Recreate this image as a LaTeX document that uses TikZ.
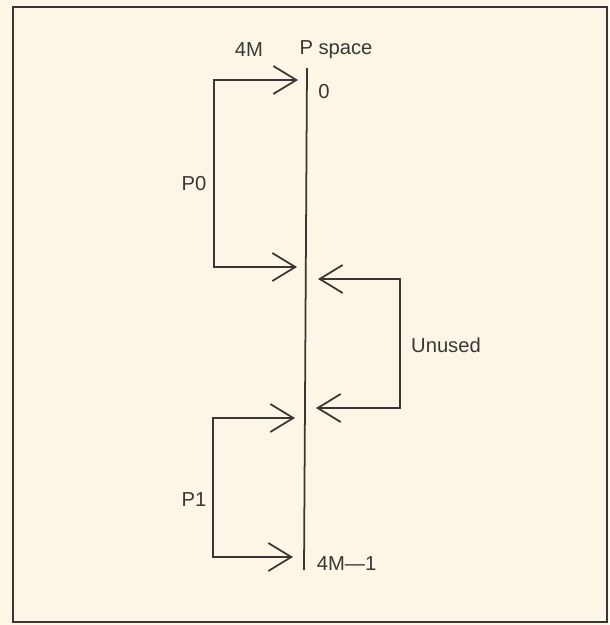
\documentclass[tikz,border=0pt]{standalone}
\usepackage{fontspec}
\setmainfont{Liberation Sans}
\usepackage{xcolor}
\usetikzlibrary{arrows.meta}
\definecolor{paper}{HTML}{FCF6E6}
\definecolor{ink}{HTML}{3A3636}

\begin{document}
\begin{tikzpicture}[x=0.02cm,y=-0.02cm,font=\fontsize{11.5}{13}\selectfont,
  >={Straight Barb[length=0.46cm,width=0.56cm]},line width=1pt,ink]
\fill[paper] (0,0) rectangle (609,625);
\useasboundingbox (0,0) rectangle (609,625);
\draw[line width=1.5pt] (13,7) rectangle (607,622);
% the P space line
\coordinate (top) at (307,68);
\coordinate (bot) at (304,570);
\draw (top) -- (bot);
\coordinate (pzeroa) at (298,80);
\coordinate (pzerob) at (297,267);
\coordinate (unuseda) at (318,279);
\coordinate (unusedb) at (316,408);
\coordinate (ponea) at (295,418);
\coordinate (poneb) at (293,557);
\draw[<->] (pzeroa) -- ++(-84,0) |- (pzerob);
\draw[<->] (unuseda) -- ++(82,0) |- (unusedb);
\draw[<->] (ponea) -- ++(-82,0) |- (poneb);
% labels
\node (fourm) at (249,50) {4M};
\node (pspace) at (336,50) {P space};
\node (zero) at (324,92) {0};
\node (pzero) at (194,184) {P0};
\node (unused) at (446,345) {Unused};
\node (pone) at (194,500) {P1};
\node[anchor=west,inner sep=0pt] (last) at (316,564) {4M—1};
\end{tikzpicture}
\end{document}
